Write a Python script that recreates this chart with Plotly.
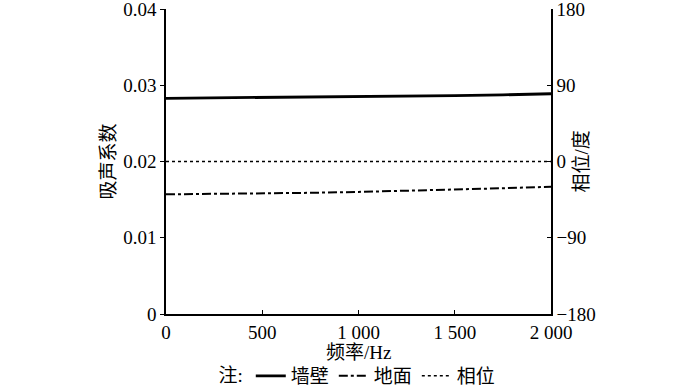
import plotly.graph_objects as go

freq = [0, 250, 500, 750, 1000, 1250, 1500, 1750, 2000]
wall = [0.0283, 0.02835, 0.0284, 0.02845, 0.0285, 0.02858, 0.02866, 0.02875, 0.0289]
ground = [0.0157, 0.01575, 0.0158, 0.0159, 0.01602, 0.01615, 0.0163, 0.0165, 0.0167]
phase = [0, 0, 0, 0, 0, 0, 0, 0, 0]

x_tickvals = [0, 500, 1000, 1500, 2000]
x_ticktext = ["0", "500", "1 000", "1 500", "2 000"]
y_tickvals = [0, 0.01, 0.02, 0.03, 0.04]
y_ticktext = ["0", "0.01", "0.02", "0.03", "0.04"]
y2_tickvals = [-180, -90, 0, 90, 180]
y2_ticktext = ["−180", "−90", "0", "90", "180"]

FONT = "Liberation Serif, Times New Roman, Noto Sans CJK SC, serif"
FS = 19

fig = go.Figure()
fig.add_trace(go.Scatter(x=freq, y=wall, mode="lines", name="墙壁",
                         line=dict(color="black", width=2.8)))
fig.add_trace(go.Scatter(x=freq, y=ground, mode="lines", name="地面",
                         line=dict(color="black", width=2, dash="dashdot")))
fig.add_trace(go.Scatter(x=freq, y=phase, mode="lines", name="相位", yaxis="y2",
                         line=dict(color="black", width=1.5, dash="dot")))

axis_common = dict(showline=True, linecolor="black", linewidth=1.5, showgrid=False,
                   zeroline=False, ticklen=4, tickcolor="black", tickwidth=1.2,
                   ticklabeloverflow="allow",
                   tickfont=dict(family=FONT, size=FS, color="black"))

fig.update_layout(
    width=700, height=389,
    margin=dict(l=166, r=149, t=9, b=75, autoexpand=False),
    paper_bgcolor="white", plot_bgcolor="white",
    font=dict(family=FONT, size=FS, color="black"),
    xaxis=dict(range=[0, 2000], tickvals=x_tickvals, ticktext=x_ticktext,
               ticks="inside", automargin=False, **axis_common),
    yaxis=dict(range=[0, 0.04 * 1.0005], tickvals=y_tickvals, ticktext=y_ticktext,
               ticks="outside", automargin=False, **axis_common),
    yaxis2=dict(range=[-180, 180.2], tickvals=y2_tickvals, ticktext=y2_ticktext,
                overlaying="y", side="right", ticks="inside", automargin=False,
                **axis_common),
    showlegend=True,
    legend=dict(orientation="h", x=0.5, xanchor="center", y=-0.2033, yanchor="middle",
                title=dict(text="注:", side="left", font=dict(family=FONT, size=FS)),
                font=dict(family=FONT, size=FS), itemwidth=30, bgcolor="rgba(0,0,0,0)",
                tracegroupgap=0),
    annotations=[
        dict(text="吸声系数", xref="paper", yref="paper", x=-0.1506, y=0.5,
             textangle=-90, showarrow=False, xanchor="center", yanchor="middle",
             font=dict(family=FONT, size=FS)),
        dict(text="相位/度", xref="paper", yref="paper", x=1.0805, y=0.5,
             textangle=-90, showarrow=False, xanchor="center", yanchor="middle",
             font=dict(family=FONT, size=FS)),
        dict(text="频率/Hz", xref="paper", yref="paper", x=0.5, y=-0.1246,
             showarrow=False, xanchor="center", yanchor="middle",
             font=dict(family=FONT, size=FS)),
    ],
)

fig.write_html("out.html")
